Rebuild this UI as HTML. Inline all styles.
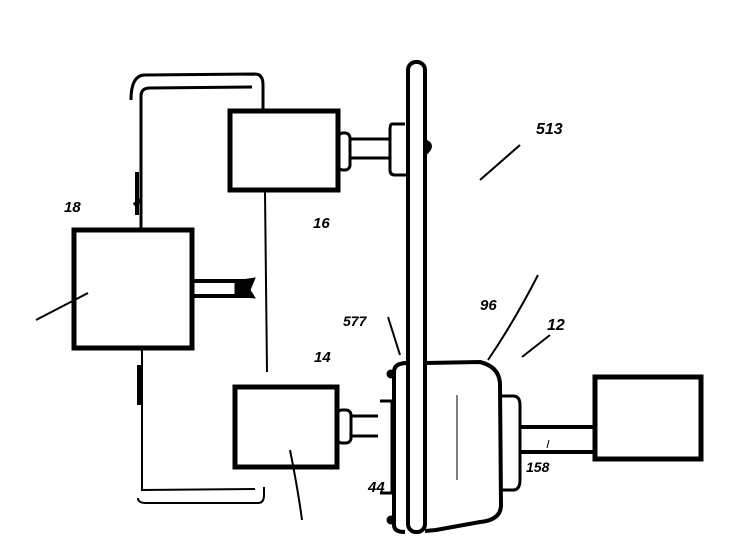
<!DOCTYPE html>
<html><head><style>
html,body{margin:0;padding:0;background:#fff;width:739px;height:555px;overflow:hidden}
text{font-family:"Liberation Sans",sans-serif;font-weight:bold;font-style:italic;fill:#000}
</style></head><body>
<svg width="739" height="555" viewBox="0 0 739 555" xmlns="http://www.w3.org/2000/svg" fill="none" stroke="#000">
<!-- left box -->
<rect x="74" y="230" width="118" height="118" stroke-width="5"/>
<!-- top box -->
<rect x="230" y="111" width="108" height="79" stroke-width="5"/>
<!-- bottom box -->
<rect x="235" y="387" width="102" height="80" stroke-width="5"/>
<!-- right box -->
<rect x="595" y="377" width="106" height="82" stroke-width="5"/>
<!-- feedback loops -->
<path d="M131 100 Q131 75 145 75 L255 74 Q263 74 263 85 L263 110" stroke-width="3"/>
<path d="M141 228 L141 96 Q141 88 150 88 L252 87" stroke-width="3"/>
<path d="M142 350 L142 490 L255 489" stroke-width="2"/>
<path d="M138 498 Q138 503 146 503 L258 503 Q264 503 264 495 L264 487" stroke-width="2"/>
<path d="M265 192 L267 372" stroke-width="2"/>
<!-- arrows on loops -->
<path d="M137 172 L137 215 M141 200 L134 205" stroke-width="4"/>
<path d="M139 365 L139 405" stroke-width="4"/>
<!-- left box shaft -->
<path d="M193 281 L252 281 M193 296 L252 296" stroke-width="4"/>
<path d="M235 281 L255 278 L250 290 L255 298 L235 296 Z" fill="#000"/>
<!-- disk -->
<rect x="408" y="62" width="17" height="470" rx="8" stroke-width="4"/>
<!-- top box coupling -->
<rect x="338" y="133" width="12" height="37" rx="5" stroke-width="3"/>
<path d="M350 139 L390 139 M350 158 L390 158" stroke-width="3"/>
<path d="M405 124 L392 124 Q390 124 390 130 L390 170 Q390 175 395 175 L408 175" stroke-width="3"/>
<path d="M425 140 Q437 145 425 155 Z" fill="#000" stroke-width="2"/>
<!-- bottom coupling -->
<rect x="337" y="410" width="14" height="33" rx="5" stroke-width="3"/>
<path d="M351 416 L378 416 M351 436 L378 436" stroke-width="3"/>
<path d="M380 401 L392 401 L392 493 L380 493" stroke-width="3"/>
<path d="M407 363 Q394 363 394 372 L394 525 Q394 532 405 532" stroke-width="4"/>
<circle cx="391" cy="374" r="4" fill="#000"/>
<circle cx="391" cy="520" r="4" fill="#000"/>
<!-- clutch body -->
<path d="M425 363 L480 362 Q500 367 500 385 L501 505 Q501 520 480 522 L436 530 L425 531" stroke-width="4"/>
<path d="M457 395 L457 480" stroke-width="1"/>
<path d="M501 396 L513 396 Q520 396 520 405 L520 480 Q520 490 513 490 L501 490" stroke-width="3"/>
<path d="M520 427 L595 427 M520 452 L595 452" stroke-width="4"/>
<!-- leaders -->
<path d="M36 320 L88 293" stroke-width="2"/>
<path d="M290 450 Q298 490 302 520" stroke-width="2"/>
<path d="M388 317 L400 355" stroke-width="2"/>
<path d="M488 360 Q515 320 538 275" stroke-width="2"/>
<path d="M480 180 L520 145" stroke-width="2"/>
<path d="M522 357 L550 335" stroke-width="2"/>
<path d="M549 440 L547 448" stroke-width="1"/>
</svg>
<svg width="739" height="555" style="position:absolute;left:0;top:0" xmlns="http://www.w3.org/2000/svg">
<text x="536" y="134" font-size="16">513</text>
<text x="313" y="228" font-size="15">16</text>
<text x="64" y="212" font-size="15">18</text>
<text x="314" y="362" font-size="15">14</text>
<text x="368" y="492" font-size="15">44</text>
<text x="343" y="326" font-size="14">577</text>
<text x="480" y="310" font-size="15">96</text>
<text x="547" y="330" font-size="16">12</text>
<text x="526" y="472" font-size="14">158</text>
</svg>
</body></html>
